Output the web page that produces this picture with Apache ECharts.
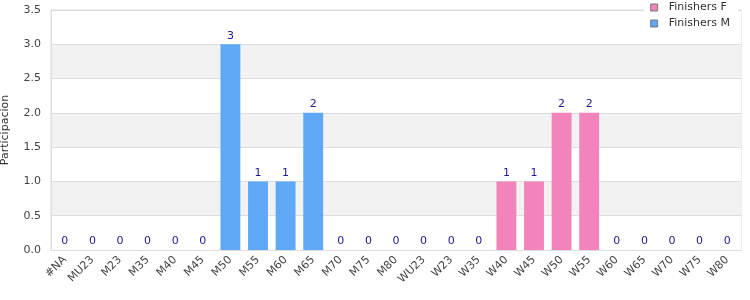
<!DOCTYPE html>
<html>
<head>
<meta charset="utf-8">
<script src="https://cdn.jsdelivr.net/npm/echarts@6/dist/echarts.min.js"></script>
<style>
  html, body { margin: 0; padding: 0; background: #fff; }
  #chart { width: 750px; height: 300px; }
</style>
</head>
<body>
<div id="chart"></div>
<script>
var categories = ['#NA', 'MU23', 'M23', 'M35', 'M40', 'M45', 'M50', 'M55', 'M60', 'M65', 'M70', 'M75', 'M80',
  'WU23', 'W23', 'W35', 'W40', 'W45', 'W50', 'W55', 'W60', 'W65', 'W70', 'W75', 'W80'];
var finishersM = [0, 0, 0, 0, 0, 0, 3, 1, 1, 2, 0, 0, 0, 0, 0, 0, 0, 0, 0, 0, 0, 0, 0, 0, 0];
var finishersF = [0, 0, 0, 0, 0, 0, 0, 0, 0, 0, 0, 0, 0, 0, 0, 0, 1, 1, 2, 2, 0, 0, 0, 0, 0];
var yTicks = { min: 0, max: 3.5, interval: 0.5 };

var chart = echarts.init(document.getElementById('chart'));

var font = 'DejaVu Sans';

var option = {
  animation: false,
  textStyle: { fontFamily: font },
  grid: {
    left: 51, right: 9, top: 10, bottom: 50,
    containLabel: false,
    outerBoundsMode: 'none',
    show: true, borderColor: '#dddddd', borderWidth: 1
  },
  legend: {
    data: ['Finishers F', 'Finishers M'],
    orient: 'vertical',
    right: 12, top: 1,
    itemWidth: 7, itemHeight: 7, itemGap: 5,
    padding: [1, 8, 2, 6],
    backgroundColor: '#ffffff',
    icon: 'rect',
    itemStyle: { borderColor: '#777', borderWidth: 1 },
    textStyle: { fontSize: 11, color: '#333', fontFamily: font, padding: [0, 0, 0, 6] }
  },
  xAxis: {
    type: 'category',
    data: categories,
    axisTick: { show: false },
    axisLine: { lineStyle: { color: '#dddddd' } },
    axisLabel: { rotate: 45, fontSize: 11, color: '#444', interval: 0, margin: 8, fontFamily: font }
  },
  yAxis: {
    type: 'value',
    min: yTicks.min, max: yTicks.max, interval: yTicks.interval,
    name: 'Participacion',
    nameLocation: 'middle',
    nameGap: 40,
    nameTextStyle: { fontSize: 11, color: '#333', fontFamily: font },
    axisLine: { show: true, lineStyle: { color: '#dddddd' } },
    axisTick: { show: false },
    axisLabel: {
      fontSize: 11, color: '#444', margin: 10, fontFamily: font,
      formatter: function (v) { return v.toFixed(1); }
    },
    splitLine: { lineStyle: { color: '#dddddd' } },
    splitArea: { show: true, areaStyle: { color: ['#ffffff', '#f2f2f2'] } }
  },
  series: [
    {
      name: 'Finishers M',
      type: 'bar',
      stack: 'total',
      data: finishersM,
      barWidth: '72%',
      itemStyle: { color: '#5fa8f5' }
    },
    {
      name: 'Finishers F',
      type: 'bar',
      stack: 'total',
      data: finishersF,
      barWidth: '72%',
      itemStyle: { color: '#f283bb' },
      label: {
        show: true,
        position: 'top',
        distance: 3,
        fontSize: 11,
        color: '#1a1a8c',
        fontFamily: font,
        formatter: function (p) { return finishersM[p.dataIndex] + finishersF[p.dataIndex]; }
      }
    }
  ]
};

chart.setOption(option);
</script>
</body>
</html>
